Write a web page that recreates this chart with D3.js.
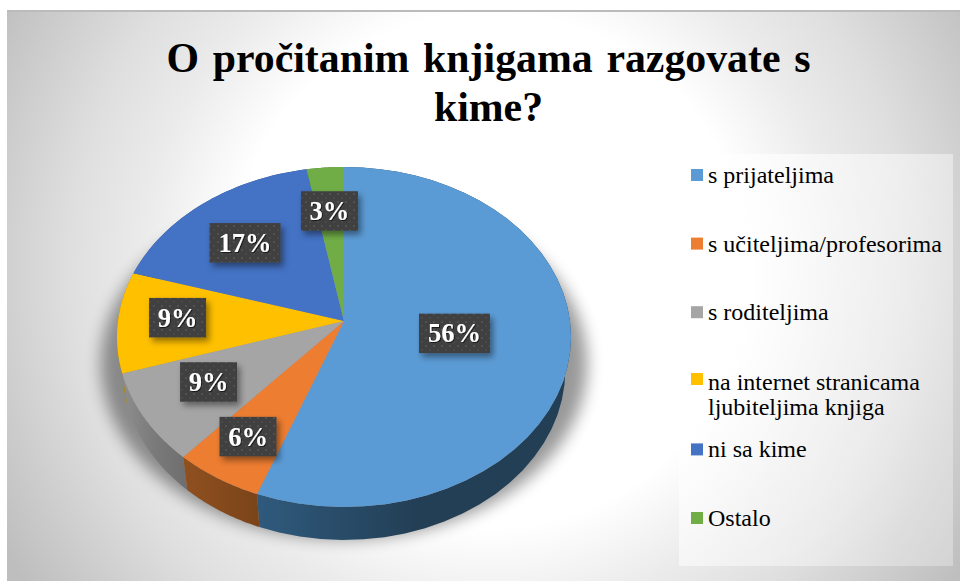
<!DOCTYPE html>
<html><head><meta charset="utf-8">
<script src="https://cdn.jsdelivr.net/npm/d3@7"></script>
<style>html,body{margin:0;padding:0;background:#fff;overflow:hidden}svg{display:block;font-family:"Liberation Serif",serif}</style>
</head><body><div id="c"></div>
<script>
const categories = ["s prijateljima","s učiteljima/profesorima","s roditeljima","na internet stranicama ljubiteljima knjiga","ni sa kime","Ostalo"];
const legendLines = [["s prijateljima"],["s učiteljima/profesorima"],["s roditeljima"],["na internet stranicama","ljubiteljima knjiga"],["ni sa kime"],["Ostalo"]];
const values = [55.7,5.8,8.6,9.6,17.4,2.9];
const labels = ["56%","6%","9%","9%","17%","3%"];
const titleLines = ["O pročitanim knjigama razgovate s","kime?"];
const colors = ["#5b9bd5","#ed7d31","#a5a5a5","#ffc000","#4472c4","#70ad47"];
const wallStops = [["#2f5a7d","#233f56","#233f56"],["#8f5020","#854a1c","#7a4419"],["#8e8e8e","#7a7a7a","#6e6e6e"],["#b38700","#b38700","#b38700"],["#2f5089","#2f5089","#2f5089"],["#4e7932","#4e7932","#4e7932"]];
const labelRadius = [0.491,0.758,0.677,0.738,0.667,0.699];
const labelAngleNudge = [-1.7,0.8,2,1.9,-1.6,-0.4];

const W=960,H=581;
const svg=d3.select("#c").append("svg").attr("width",W).attr("height",H);
const defs=svg.append("defs");
const bg=defs.append("radialGradient").attr("id","bg").attr("gradientUnits","userSpaceOnUse").attr("cx",490).attr("cy",270).attr("r",560);
[[0,"#ffffff"],[0.46,"#ffffff"],[0.62,"#ebebeb"],[0.75,"#dfdfdf"],[1,"#bebebe"]].forEach(s=>bg.append("stop").attr("offset",s[0]).attr("stop-color",s[1]));
const lg=defs.append("linearGradient").attr("id","leg").attr("x1",0).attr("y1",0).attr("x2",1).attr("y2",0.6);
[[0,"#ffffff",0.75],[1,"#ffffff",0.3]].forEach(s=>lg.append("stop").attr("offset",s[0]).attr("stop-color",s[1]).attr("stop-opacity",s[2]));
defs.append("filter").attr("id","blur").attr("x","-20%").attr("y","-20%").attr("width","140%").attr("height","140%").append("feGaussianBlur").attr("stdDeviation",8);
const ds=defs.append("filter").attr("id","box").attr("x","-30%").attr("y","-30%").attr("width","170%").attr("height","170%");
ds.append("feDropShadow").attr("dx",3).attr("dy",4).attr("stdDeviation",3).attr("flood-color","#000").attr("flood-opacity",0.42);
const ts=defs.append("filter").attr("id","txt").attr("x","-20%").attr("y","-20%").attr("width","140%").attr("height","140%");
ts.append("feDropShadow").attr("dx",1).attr("dy",1).attr("stdDeviation",0.6).attr("flood-color","#000").attr("flood-opacity",0.6);
const pat=defs.append("pattern").attr("id","dots").attr("patternUnits","userSpaceOnUse").attr("width",8).attr("height",8);
pat.append("rect").attr("width",8).attr("height",8).attr("fill","#3f3f3f");
pat.append("circle").attr("cx",2).attr("cy",2).attr("r",1.1).attr("fill","#555");
pat.append("circle").attr("cx",6).attr("cy",6).attr("r",1.1).attr("fill","#4c4c4c");

svg.append("rect").attr("x",7).attr("y",11).attr("width",W-7).attr("height",H-11).attr("fill","url(#bg)");
svg.append("rect").attr("x",7).attr("y",10).attr("width",W-7).attr("height",2).attr("fill","#bbb");

// title
titleLines.forEach((t,i)=>svg.append("text").attr("x",488.5).attr("y",72+i*49).attr("text-anchor","middle").attr("font-size",41.8).attr("font-weight","bold").attr("word-spacing",i===0?3.3:0).attr("fill","#000").text(t));

// projection of the tilted disc
const cx=344,cy=321,kx=226,ky=168.5,p=-0.094,depth=33,wallX=0.975;
const proj=(a,r,dy=0,s=1)=>{const u=r*Math.sin(a),v=-r*Math.cos(a),w=1+p*v;return [cx+s*kx*u/w,cy+dy+ky*v/w];};
const pie=d3.pie().sort(null).value(d=>d)(values);
const line=d3.line();
const arcPts=(d,dy=0,s=1)=>d3.range(0,41).map(i=>proj(d.startAngle+(d.endAngle-d.startAngle)*i/40,1,dy,s));

// shadow
svg.append("path").attr("d",line(d3.range(0,121).map(i=>proj(i/120*2*Math.PI,1.03,26,1.04)))+"Z").attr("fill","#000").attr("opacity",0.4).attr("filter","url(#blur)");

// walls
pie.forEach((d,i)=>{const g=defs.append("linearGradient").attr("id","w"+i);
 wallStops[i].forEach((c,j)=>g.append("stop").attr("offset",j/2).attr("stop-color",c));});
const order=pie.map((d,i)=>i).sort((a,b)=>{const m=d=>-Math.cos((d.startAngle+d.endAngle)/2);return m(pie[a])-m(pie[b]);});
order.forEach(i=>{const d=pie[i];const top=arcPts(d),bot=arcPts(d,depth,wallX).reverse();
 svg.append("path").attr("d",line(top.concat(bot))+"Z").attr("fill",`url(#w${i})`);});

// top faces
pie.forEach((d,i)=>{svg.append("path").attr("d",line([[cx,cy]].concat(arcPts(d)))+"Z").attr("fill",colors[i]);});

// data labels
const bw=t=>t.length>2?71:57;
pie.forEach((d,i)=>{const [x,y]=proj((d.startAngle+d.endAngle)/2+labelAngleNudge[i]*Math.PI/180,labelRadius[i]);const w=bw(labels[i]),h=39.5;
 svg.append("rect").attr("x",x-w/2).attr("y",y-h/2).attr("width",w).attr("height",h).attr("fill","url(#dots)").attr("filter","url(#box)");
 svg.append("text").attr("x",x).attr("y",y+9).attr("text-anchor","middle").attr("font-size",26.5).attr("font-weight","bold").attr("fill","#fff").attr("filter","url(#txt)").text(labels[i]);});

// legend
svg.append("rect").attr("x",679).attr("y",154).attr("width",274).attr("height",412).attr("fill","url(#leg)");
const rowY=d3.scalePoint().domain(d3.range(6)).range([175,518]);
legendLines.forEach((ls,i)=>{const yy=i===3?379:rowY(i);
 svg.append("rect").attr("x",691).attr("y",yy-6).attr("width",12).attr("height",12).attr("fill",colors[i]);
 ls.forEach((t,j)=>svg.append("text").attr("x",708).attr("y",(i===3?390:yy+8)+j*25).attr("font-size",24).attr("fill","#000").text(t));});
</script></body></html>
